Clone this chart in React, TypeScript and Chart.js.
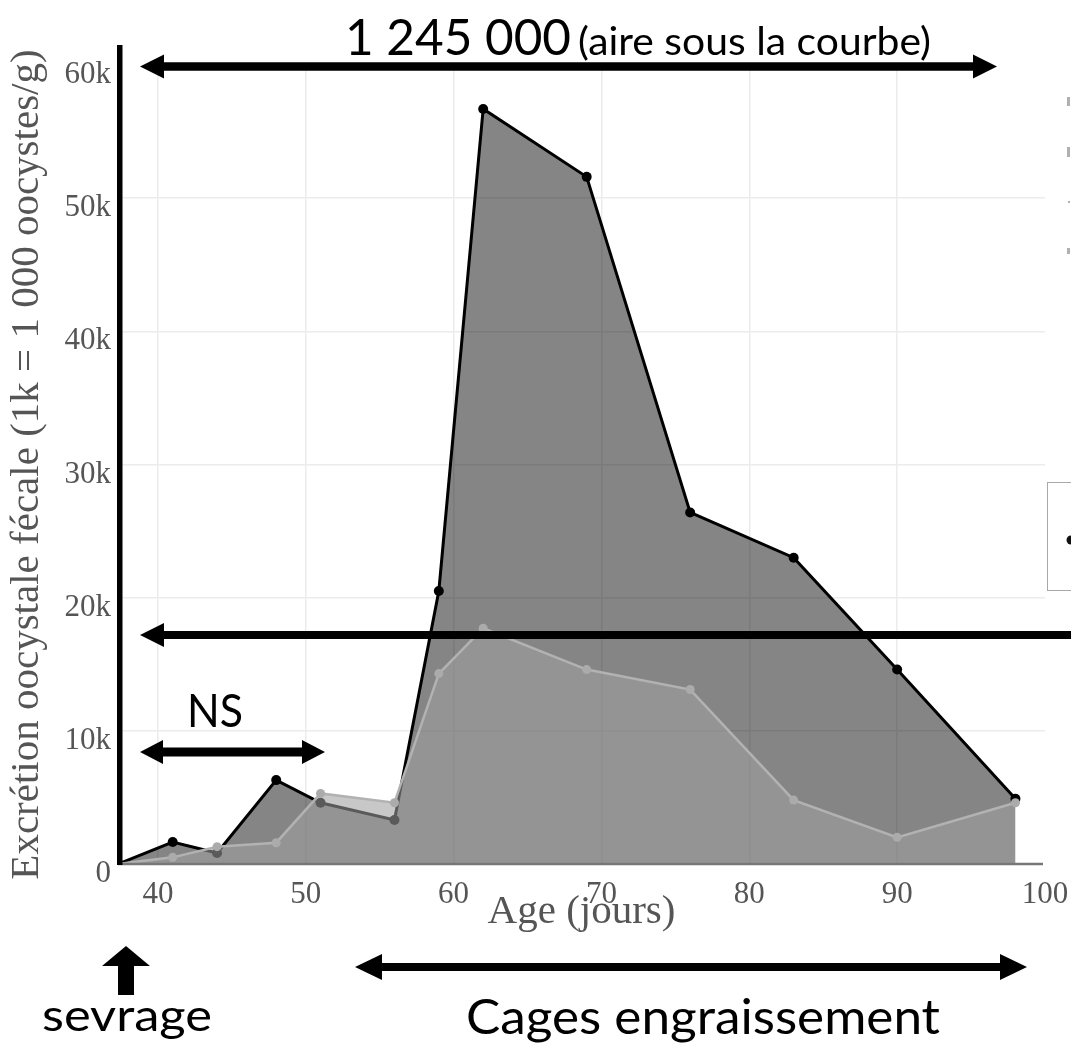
import React, { useEffect, useRef } from 'react';
import { Chart, registerables } from 'chart.js';

Chart.register(...registerables);

// ---- Data ----
const ages = [37.3, 41, 44, 48, 51, 56, 59, 62, 69, 76, 83, 90, 98];
const excretionDark = [0, 1650, 830, 6300, 4600, 3300, 20500, 56700, 51600, 26400, 23000, 14600, 4900];
const excretionLight = [0, 500, 1300, 1600, 5300, 4600, 14300, 17700, 14600, 13100, 4800, 2000, 4600];
const xTickValues = [40, 50, 60, 70, 80, 90, 100];
const yTickValues = [0, 10000, 20000, 30000, 40000, 50000, 60000];
const xTitle = 'Age (jours)';
const yTitle = 'Excrétion oocystale fécale (1k = 1 000 oocystes/g)';
const areaValue = '1 245 000';
const areaNote = '(aire sous la courbe)';
const nsLabel = 'NS';
const weaningLabel = 'sevrage';
const cagesLabel = 'Cages engraissement';

const W = 1071;
const H = 1049;
const SERIF = '"Liberation Serif", "Times New Roman", serif';
const SANS = 'Lato, "Open Sans", sans-serif';

function fitText(ctx: CanvasRenderingContext2D, text: string, x: number, y: number, size: number, targetWidth: number) {
  ctx.save();
  ctx.font = `${size}px ${SANS}`;
  const w = ctx.measureText(text).width;
  const sx = targetWidth / w;
  ctx.translate(x, y);
  ctx.scale(sx, 1);
  ctx.textAlign = 'left';
  ctx.textBaseline = 'alphabetic';
  ctx.fillStyle = '#000';
  ctx.fillText(text, 0, 0);
  ctx.restore();
}

function hArrow(
  ctx: CanvasRenderingContext2D,
  x1: number, x2: number, y: number,
  thick: number, headLen: number, headHalf: number,
  leftHead: boolean, rightHead: boolean
) {
  const t = thick / 2;
  ctx.beginPath();
  if (leftHead) {
    ctx.moveTo(x1, y);
    ctx.lineTo(x1 + headLen, y - headHalf);
    ctx.lineTo(x1 + headLen, y - t);
  } else {
    ctx.moveTo(x1, y - t);
  }
  if (rightHead) {
    ctx.lineTo(x2 - headLen, y - t);
    ctx.lineTo(x2 - headLen, y - headHalf);
    ctx.lineTo(x2, y);
    ctx.lineTo(x2 - headLen, y + headHalf);
    ctx.lineTo(x2 - headLen, y + t);
  } else {
    ctx.lineTo(x2, y - t);
    ctx.lineTo(x2, y + t);
  }
  if (leftHead) {
    ctx.lineTo(x1 + headLen, y + t);
    ctx.lineTo(x1 + headLen, y + headHalf);
  } else {
    ctx.lineTo(x1, y + t);
  }
  ctx.closePath();
  ctx.fillStyle = '#000';
  ctx.fill();
}

const overlayPlugin = {
  id: 'overlay',
  afterDatasetsDraw(chart: any) {
    const { ctx, chartArea, scales } = chart;
    const y0 = scales.y.getPixelForValue(0);
    ctx.save();
    ctx.strokeStyle = '#777';
    ctx.lineWidth = 2.5;
    ctx.beginPath();
    ctx.moveTo(chartArea.left, y0);
    ctx.lineTo(chartArea.right - 2, y0);
    ctx.stroke();
    ctx.restore();
  },
  afterDraw(chart: any) {
    const { ctx } = chart;
    ctx.save();

    // partial legend (cut off on the right)
    ctx.strokeStyle = '#a8a8a8';
    ctx.lineWidth = 1;
    ctx.strokeRect(1047.5, 482.5, 60, 108);
    ctx.fillStyle = '#111';
    ctx.beginPath();
    ctx.arc(1071, 540, 4.5, 0, Math.PI * 2);
    ctx.fill();
    ctx.fillStyle = '#b0b0b0';
    ctx.fillRect(1067, 97, 3, 9);
    ctx.fillRect(1067, 147, 3, 10);
    ctx.fillRect(1068, 201, 2, 2);
    ctx.fillRect(1067, 248, 3, 6);

    // thick vertical axis line
    ctx.fillStyle = '#000';
    ctx.fillRect(117, 45, 5.5, 820);

    // top arrow + area label
    hArrow(ctx, 140, 997, 66.5, 8.5, 24, 12, true, true);
    fitText(ctx, areaValue, 345, 55, 51, 226);
    fitText(ctx, areaNote, 578, 55, 39, 353);

    // mean-level arrow
    hArrow(ctx, 140, W + 5, 635, 8, 24, 12, true, false);

    // NS arrow
    hArrow(ctx, 140, 325, 752, 9, 23, 12, true, true);
    fitText(ctx, nsLabel, 187, 727, 47, 56);

    // sevrage up arrow
    ctx.fillStyle = '#000';
    ctx.beginPath();
    ctx.moveTo(126, 946);
    ctx.lineTo(150, 966);
    ctx.lineTo(134, 966);
    ctx.lineTo(134, 995);
    ctx.lineTo(118, 995);
    ctx.lineTo(118, 966);
    ctx.lineTo(102, 966);
    ctx.closePath();
    ctx.fill();
    fitText(ctx, weaningLabel, 42, 1031, 45, 170);

    // cages arrow + label
    hArrow(ctx, 355, 1027, 967, 8, 27, 13, true, true);
    fitText(ctx, cagesLabel, 466, 1034, 48, 474);

    ctx.restore();
  },
};

export default function App() {
  const canvasRef = useRef<HTMLCanvasElement | null>(null);

  useEffect(() => {
    document.body.style.margin = '0';
    const canvas = canvasRef.current;
    if (!canvas) return;
    const tickFont = { family: SERIF, size: 31 };
    const titleFont = { family: SERIF, size: 41 };
    const chart = new Chart(canvas, {
      type: 'line',
      data: {
        datasets: [
          {
            label: 'light',
            data: ages.map((x, i) => ({ x, y: excretionLight[i] })),
            borderColor: '#b2b2b2',
            borderWidth: 2.5,
            pointRadius: 4.5,
            pointBackgroundColor: '#ababab',
            pointBorderWidth: 0,
            fill: 'origin',
            backgroundColor: 'rgba(158,158,158,0.57)',
            tension: 0,
          },
          {
            label: 'dark',
            data: ages.map((x, i) => ({ x, y: excretionDark[i] })),
            borderColor: '#000',
            borderWidth: 3,
            pointRadius: 5,
            pointBackgroundColor: '#000',
            pointBorderWidth: 0,
            fill: 'origin',
            backgroundColor: 'rgba(0,0,0,0.478)',
            tension: 0,
          },
        ],
      },
      options: {
        animation: false,
        responsive: false,
        devicePixelRatio: 1,
        layout: { padding: { top: 65, right: 26, left: 0, bottom: 0 } },
        plugins: { legend: { display: false }, tooltip: { enabled: false } },
        scales: {
          x: {
            type: 'linear',
            min: ages[0],
            max: 100,
            afterBuildTicks: (s: any) => {
              s.ticks = xTickValues.map((v) => ({ value: v }));
            },
            afterFit: (s: any) => {
              s.height = H - 864;
              s.paddingLeft = 0;
              s.paddingRight = 0;
            },
            ticks: { font: tickFont, color: '#555', padding: 12, maxRotation: 0, autoSkip: false },
            grid: {
              color: (c: any) => (c.tick && c.tick.value === 100 ? 'rgba(0,0,0,0)' : '#ececec'),
              lineWidth: 1.5,
              drawTicks: false,
            },
            border: { display: false },
            title: { display: true, text: xTitle, font: titleFont, color: '#555', padding: { top: 0, bottom: 112 } },
          },
          y: {
            min: 0,
            max: 60000,
            afterBuildTicks: (s: any) => {
              s.ticks = yTickValues.map((v) => ({ value: v }));
            },
            afterFit: (s: any) => {
              s.width = 118;
              s.paddingTop = 0;
              s.paddingBottom = 0;
            },
            ticks: {
              font: tickFont,
              color: '#555',
              padding: 7,
              labelOffset: 10,
              callback: (v: any) => (v === 0 ? '0' : `${v / 1000}k`),
            },
            grid: {
              color: (c: any) => (c.tick && (c.tick.value === 0 || c.tick.value === 60000) ? 'rgba(0,0,0,0)' : '#ececec'),
              lineWidth: 1.5,
              drawTicks: false,
            },
            border: { display: false },
            title: { display: true, text: yTitle, font: titleFont, color: '#555', padding: { top: 3, bottom: 0 } },
          },
        },
      },
      plugins: [overlayPlugin],
    } as any);
    return () => chart.destroy();
  }, []);

  return <canvas ref={canvasRef} width={W} height={H} style={{ display: 'block', width: W, height: H }} />;
}
